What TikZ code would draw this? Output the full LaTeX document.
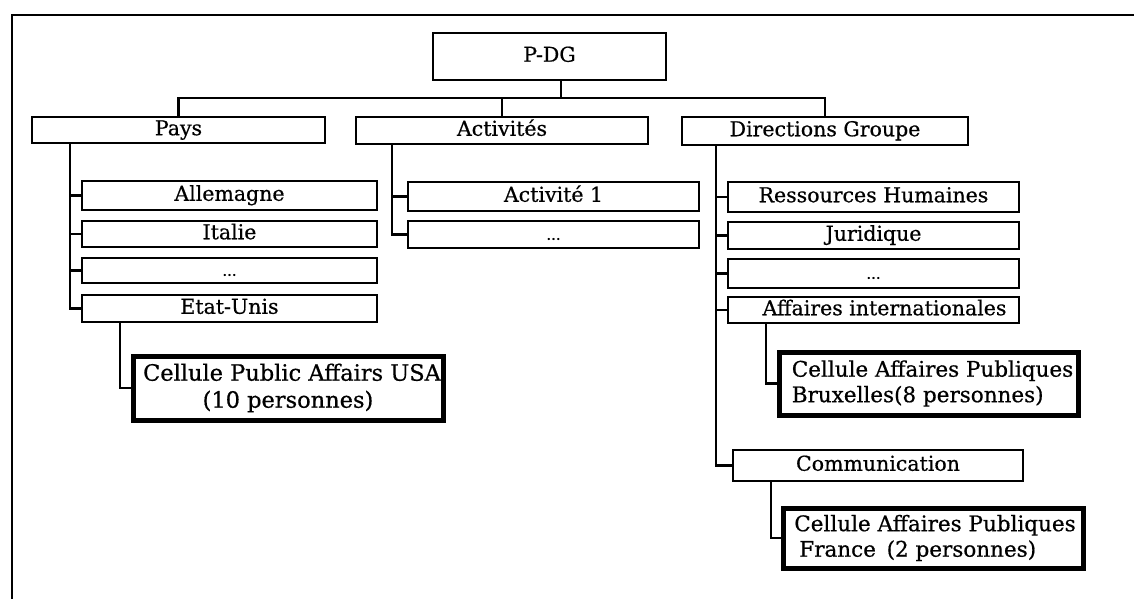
\documentclass[tikz,border=0pt]{standalone}
\usepackage{fontspec}
\setmainfont{DejaVu Serif}[FakeBold=0.6]
\begin{document}
\begin{tikzpicture}[x=1pt,y=-1pt,
  orgbox/.style={draw, line width=2.5pt, inner sep=0pt, outer sep=0pt,
    font=\fontsize{20.5}{24}\selectfont, text height=15pt, text depth=4.5pt},
  cellbox/.style={draw, line width=5pt, inner sep=0pt, outer sep=0pt,
    font=\fontsize{21.5}{25.5}\selectfont},
  link/.style={line width=2.3pt},
  dots/.style={font=\fontsize{15}{17}\selectfont}]

\useasboundingbox (0,0) rectangle (1134,599);
\clip (0,0) rectangle (1134,599);

% outer frame
\draw[line width=2.5pt] (12,620) -- (12,15) -- (1150,15);

% top level
\node[orgbox, minimum width=233, minimum height=47] (pdg) at (549.5,56.5) {P-DG};

% second level
\node[orgbox, minimum width=293, minimum height=26] (pays) at (178.5,130) {Pays};
\node[orgbox, minimum width=292, minimum height=27] (act)  at (502,130.5) {Activités};
\node[orgbox, minimum width=286, minimum height=28] (dir)  at (825,131) {Directions Groupe};

% countries
\node[orgbox, minimum width=295, minimum height=29] (all)   at (229.5,195.5) {Allemagne};
\node[orgbox, minimum width=295, minimum height=26] (ita)   at (229.5,234) {Italie};
\node[orgbox, minimum width=295, minimum height=25, dots] (pdots) at (229.5,270.5) {...};
\node[orgbox, minimum width=295, minimum height=27] (etat)  at (229.5,308.5) {Etat-Unis};
\node[cellbox, minimum width=310, minimum height=64, align=center,
      font=\fontsize{22.5}{27}\selectfont] (cusa) at (288,388)
      {\hspace*{8pt}Cellule Public Affairs USA\\(10 personnes)};

% activities
\node[orgbox, minimum width=291, minimum height=29] (act1)  at (553.5,196.5) {Activité 1};
\node[orgbox, minimum width=291, minimum height=27, dots] (adots) at (553.5,234.5) {...};

% group departments
\node[orgbox, minimum width=291, minimum height=30] (rh)    at (873.5,197) {Ressources Humaines};
\node[orgbox, minimum width=291, minimum height=27] (jur)   at (873.5,235.5) {Juridique};
\node[orgbox, minimum width=291, minimum height=29, dots] (ddots) at (873.5,273.5) {...};
\node[orgbox, minimum width=291, minimum height=26] (ai)    at (873.5,310) {\hspace*{22pt}Affaires internationales};
\node[cellbox, minimum width=299, minimum height=63, align=left] (cbrux) at (928.5,383.5)
      {\hspace*{8pt}Cellule Affaires Publiques\\\hspace*{8pt}Bruxelles(8 personnes)};
\node[orgbox, minimum width=290, minimum height=31] (comm)  at (878,465.5) {Communication};
\node[cellbox, minimum width=300, minimum height=60, align=left] (cfr) at (933,538)
      {\hspace*{4pt}Cellule Affaires Publiques\\\hspace*{9pt}France\enspace(2 personnes)};

% connectors from the top
\coordinate (bus) at (561,98);
\draw[link] ([xshift=11.5pt]pdg.south) -- (bus);
\draw[link] (pays.north) |- (dir.north |- bus) -- (dir.north);
\draw[link] (act.north) -- (act.north |- bus);

% countries branch
\coordinate (pv) at ([xshift=-108.5pt]pays.south);
\draw[link] (pv) |- (etat.west);
\foreach \n in {all,ita,pdots} \draw[link] (\n.west) -- (\n.west -| pv);
\draw[link] ([xshift=-109.5pt]etat.south) |- (cusa.west);

% activities branch
\coordinate (av) at ([xshift=-110pt]act.south);
\draw[link] (av) |- (adots.west);
\draw[link] (act1.west) -- (act1.west -| av);

% group departments branch
\coordinate (dv) at ([xshift=-109pt]dir.south);
\draw[link] (dv) |- (comm.west);
\foreach \n in {rh,jur,ddots,ai} \draw[link] (\n.west) -- (\n.west -| dv);
\draw[link] ([xshift=-107.5pt]ai.south) |- (cbrux.west);
\draw[link] ([xshift=-107pt]comm.south) |- (cfr.west);

\end{tikzpicture}
\end{document}
